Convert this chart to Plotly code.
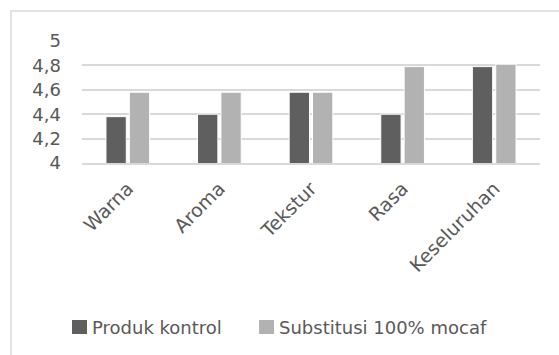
import plotly.graph_objects as go

categories = ["Warna", "Aroma", "Tekstur", "Rasa", "Keseluruhan"]
produk_kontrol = [4.38, 4.40, 4.58, 4.40, 4.79]
substitusi_mocaf = [4.58, 4.58, 4.58, 4.79, 4.81]
y_ticks = [4, 4.2, 4.4, 4.6, 4.8, 5]
y_tick_labels = ["4", "4,2", "4,4", "4,6", "4,8", "5"]
series_names = ["Produk kontrol", "Substitusi 100% mocaf"]
series_colors = ["#5f5f5f", "#b2b2b2"]

FONT = "DejaVu Sans"
TXT = "#595959"
GRID = "#d9d9d9"
FS = 18

fig = go.Figure()
for name, vals, col in zip(series_names, [produk_kontrol, substitusi_mocaf], series_colors):
    fig.add_trace(go.Bar(name=name, x=categories, y=vals,
                         marker=dict(color=col, line=dict(color="white", width=1))))

L, R, T, B = 82, 19, 41, 192
W, H = 559, 355
pw = W - L - R
ph = H - T - B

def px2x(px):
    return (px - L) / pw

def py2y(py):
    return (H - B - py) / ph

shapes = [
    dict(type="rect", xref="paper", yref="paper",
         x0=px2x(11), x1=px2x(600), y0=py2y(400), y1=py2y(11),
         line=dict(color=GRID, width=1.5), fillcolor="rgba(0,0,0,0)", layer="below"),
]
annotations = []
# manual legend (square + label)
leg_sq_x = [72, 259]
leg_txt_x = [90, 277]
for i, (name, col) in enumerate(zip(series_names, series_colors)):
    shapes.append(dict(type="rect", xref="paper", yref="paper",
                       x0=px2x(leg_sq_x[i]), x1=px2x(leg_sq_x[i] + 15),
                       y0=py2y(334), y1=py2y(320),
                       line=dict(width=0), fillcolor=col))
    annotations.append(dict(xref="paper", yref="paper", x=px2x(leg_txt_x[i]), y=py2y(327),
                            xanchor="left", yanchor="middle", showarrow=False, text=name,
                            font=dict(family=FONT, size=FS, color=TXT)))

fig.update_layout(
    width=W, height=H,
    margin=dict(l=L, r=R, t=T, b=B, pad=0),
    paper_bgcolor="white", plot_bgcolor="white",
    barmode="group", bargap=0.49, bargroupgap=0.13,
    font=dict(family=FONT, size=FS, color=TXT),
    showlegend=False,
    xaxis=dict(tickangle=-45, showgrid=False, showline=True, linecolor=GRID,
               linewidth=2, ticks="", ticklabelstandoff=5,
               tickfont=dict(family=FONT, size=FS + 1, color=TXT),
               fixedrange=True),
    yaxis=dict(range=[4, 5], tickvals=y_ticks, ticktext=y_tick_labels,
               showgrid=True, gridcolor=GRID, gridwidth=2, zeroline=False,
               showline=False, ticks="", ticklabelstandoff=20,
               tickfont=dict(family=FONT, size=FS, color=TXT), fixedrange=True),
    shapes=shapes,
    annotations=annotations,
)

fig.write_html("out.html")
